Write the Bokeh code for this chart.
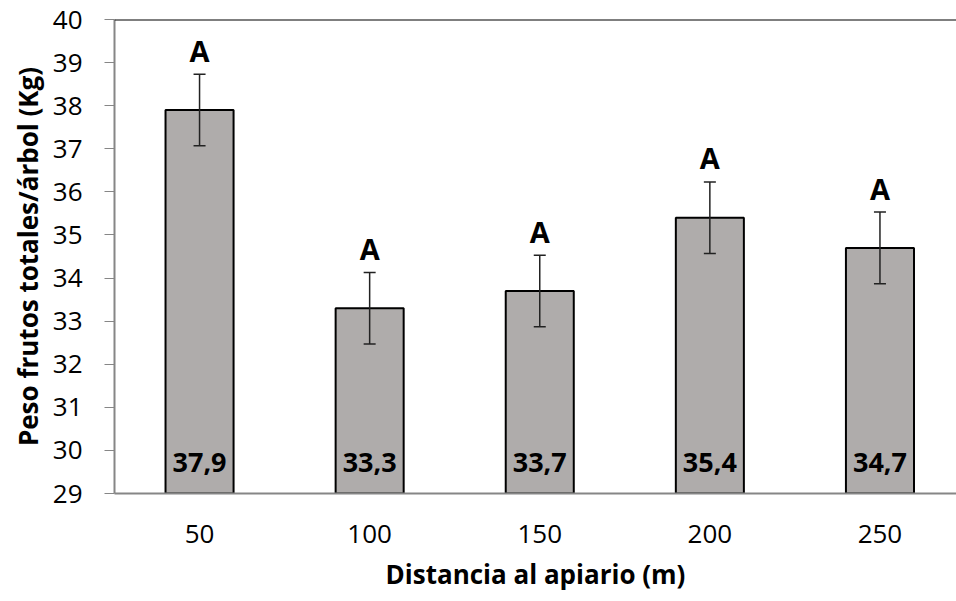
from bokeh.plotting import figure
from bokeh.models import ColumnDataSource, Range1d, FixedTicker, Whisker, TeeHead, Span
from bokeh.core.properties import value
from bokeh.embed import file_html
from bokeh.resources import INLINE

# Fruit weight per tree by distance to the apiary
distances = ["50", "100", "150", "200", "250"]
peso = [37.9, 33.3, 33.7, 35.4, 34.7]
error = [0.83, 0.83, 0.83, 0.83, 0.83]
letters = ["A", "A", "A", "A", "A"]
y_ticks = list(range(29, 41))

FONT = "Open Sans"
xs = list(range(len(distances)))
labels = [f"{v:.1f}".replace(".", ",") for v in peso]

src = ColumnDataSource(dict(
    x=xs,
    top=peso,
    upper=[v + e for v, e in zip(peso, error)],
    lower=[v - e for v, e in zip(peso, error)],
    base=[29] * len(peso),
    label=labels,
    letter=letters,
))

p = figure(width=956, height=601, output_backend="svg", toolbar_location=None,
           x_range=Range1d(-0.5, 4.45), y_range=Range1d(29, 40))
p.min_border_left = 114
p.min_border_top = 19
p.min_border_bottom = 108
p.min_border_right = 0
p.outline_line_color = None
p.xgrid.visible = False
p.ygrid.visible = False
p.background_fill_color = "white"
p.border_fill_color = "white"

p.vbar(x="x", top="top", bottom=29, width=0.4, source=src,
       fill_color="#AFACAB", line_color="black", line_width=2)

whisker = Whisker(source=src, base="x", upper="upper", lower="lower",
                  line_color="#222222", line_width=1.5, level="overlay",
                  upper_head=TeeHead(size=12, line_color="#222222", line_width=1.5),
                  lower_head=TeeHead(size=12, line_color="#222222", line_width=1.5))
p.add_layout(whisker)

# Value labels at the foot of each bar
p.text(x="x", y="base", text="label", source=src, text_align="center",
       text_baseline="alphabetic", y_offset=-31, text_font=value(FONT),
       text_font_style="bold", text_font_size="27px", text_color="black")

# Significance letters above the error bars
p.text(x="x", y="upper", text="letter", source=src, text_align="center",
       text_baseline="alphabetic", y_offset=-24, text_font=value(FONT),
       text_font_style="bold", text_font_size="29px", text_color="black")

p.add_layout(Span(location=40, dimension="width", line_color="black", line_width=2))

xa = p.xaxis[0]
xa.ticker = FixedTicker(ticks=xs)
xa.major_label_overrides = {i: d for i, d in enumerate(distances)}
xa.axis_line_color = "#868686"
xa.axis_line_width = 2
xa.major_tick_line_color = None
xa.minor_tick_line_color = None
xa.major_label_text_font = FONT
xa.major_label_text_font_size = "26px"
xa.major_label_text_color = "black"
xa.major_label_standoff = 25
xa.axis_label = "Distancia al apiario (m)"
xa.axis_label_text_font = FONT
xa.axis_label_text_font_style = "bold"
xa.axis_label_text_font_size = "26px"
xa.axis_label_text_color = "black"
xa.axis_label_standoff = 10

ya = p.yaxis[0]
ya.ticker = FixedTicker(ticks=y_ticks)
ya.axis_line_color = "#868686"
ya.axis_line_width = 2
ya.major_tick_line_color = "#868686"
ya.major_tick_in = 0
ya.major_tick_out = 10
ya.minor_tick_line_color = None
ya.major_label_text_font = FONT
ya.major_label_text_font_size = "26px"
ya.major_label_text_color = "black"
ya.major_label_standoff = 22
ya.axis_label = "Peso frutos totales/árbol (Kg)"
ya.axis_label_text_font = FONT
ya.axis_label_text_font_style = "bold"
ya.axis_label_text_font_size = "26px"
ya.axis_label_text_color = "black"
ya.axis_label_standoff = 4

open("out.html", "w").write(file_html(p, INLINE))
